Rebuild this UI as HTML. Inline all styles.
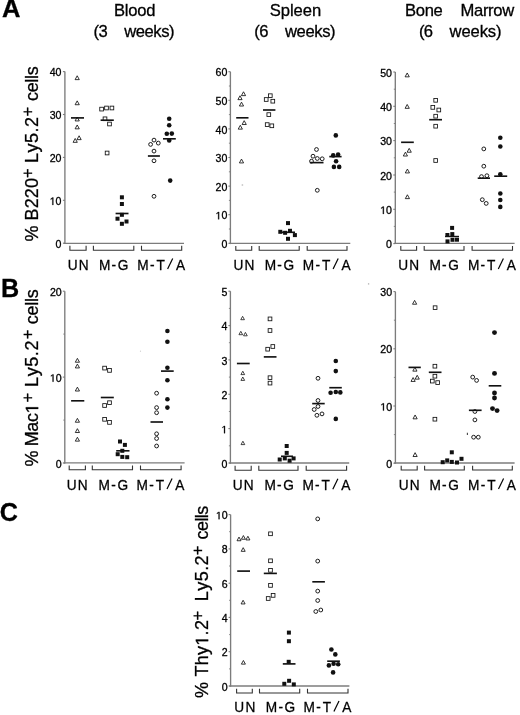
<!DOCTYPE html>
<html><head><meta charset="utf-8"><title>Figure</title>
<style>
html,body{margin:0;padding:0;background:#fff;}
body{width:520px;height:715px;overflow:hidden;}
svg{display:block;font-family:"Liberation Sans", sans-serif;filter:grayscale(100%);}
text{fill:#000;stroke:#000;stroke-width:0.3px;}
</style></head><body>
<svg width="520" height="715" viewBox="0 0 520 715">
<text x="2.0" y="17.4" font-size="25.5" text-anchor="start" font-weight="bold" >A</text>
<text x="1.0" y="296.9" font-size="25.2" text-anchor="start" font-weight="bold" >B</text>
<text x="-0.2" y="520.6" font-size="25.2" text-anchor="start" font-weight="bold" >C</text>
<text x="114.0" y="15.8" font-size="16.6" text-anchor="start" font-weight="normal" textLength="41.4" lengthAdjust="spacing">Blood</text>
<text x="93.5" y="37.2" font-size="16.6" text-anchor="start" font-weight="normal" textLength="14.2" lengthAdjust="spacing">(3</text>
<text x="124.2" y="37.2" font-size="16.6" text-anchor="start" font-weight="normal" textLength="50.4" lengthAdjust="spacing">weeks)</text>
<text x="269.8" y="15.8" font-size="16.6" text-anchor="start" font-weight="normal" textLength="51.4" lengthAdjust="spacing">Spleen</text>
<text x="254.2" y="37.2" font-size="16.6" text-anchor="start" font-weight="normal" textLength="14.2" lengthAdjust="spacing">(6</text>
<text x="285.0" y="37.2" font-size="16.6" text-anchor="start" font-weight="normal" textLength="50.6" lengthAdjust="spacing">weeks)</text>
<text x="405.1" y="16.0" font-size="16.6" text-anchor="start" font-weight="normal" textLength="37.6" lengthAdjust="spacing">Bone</text>
<text x="460.5" y="16.0" font-size="16.6" text-anchor="start" font-weight="normal" textLength="53.7" lengthAdjust="spacing">Marrow</text>
<text x="418.9" y="37.2" font-size="16.6" text-anchor="start" font-weight="normal" textLength="14.2" lengthAdjust="spacing">(6</text>
<text x="449.6" y="37.2" font-size="16.6" text-anchor="start" font-weight="normal" textLength="51.9" lengthAdjust="spacing">weeks)</text>
<text transform="translate(37.90,240.90) rotate(-90)" x="-0.64 20.52 32.61 42.70 52.79" y="-0.00" font-size="18.0">%B220</text>
<text transform="translate(37.90,177.30) rotate(-90)" x="-0.80" y="-4.75" font-size="16.4">+</text>
<text transform="translate(37.90,161.50) rotate(-90)" x="-1.48 9.05 18.56 29.08 34.59" y="-0.00" font-size="18.0">Ly5.2</text>
<text transform="translate(37.90,115.70) rotate(-90)" x="-0.80" y="-4.75" font-size="16.4">+</text>
<text transform="translate(37.90,100.20) rotate(-90)" x="-0.76 7.89 17.55 21.20 24.85" y="-0.00" font-size="18.0">cells</text>
<path d="M515 0L515 1237L197 1010L197 1180L530 1409L696 1409L696 0Z" transform="translate(38.20,465.80) rotate(-90) translate(52.38,-0.00) scale(0.00879,-0.00879)" fill="#000" stroke="#000" stroke-width="0.3" vector-effect="non-scaling-stroke"/>
<text transform="translate(38.20,465.80) rotate(-90)" x="-0.64 19.57 34.17 43.78" y="-0.00" font-size="18.0">%Mac</text>
<text transform="translate(38.20,401.60) rotate(-90)" x="-0.80" y="-4.75" font-size="16.4">+</text>
<text transform="translate(38.20,385.50) rotate(-90)" x="-1.48 9.15 18.76 29.38 34.99" y="-0.00" font-size="18.0">Ly5.2</text>
<text transform="translate(38.20,338.50) rotate(-90)" x="-0.80" y="-4.75" font-size="16.4">+</text>
<text transform="translate(38.20,323.40) rotate(-90)" x="-0.76 7.96 17.70 21.42 25.15" y="-0.00" font-size="18.0">cells</text>
<path d="M515 0L515 1237L197 1010L197 1180L530 1409L696 1409L696 0Z" transform="translate(208.20,697.40) rotate(-90) translate(51.74,-0.00) scale(0.00879,-0.00879)" fill="#000" stroke="#000" stroke-width="0.3" vector-effect="non-scaling-stroke"/>
<text transform="translate(208.20,697.40) rotate(-90)" x="-0.64 20.91 32.18 42.46 62.02 67.29" y="-0.00" font-size="18.0">%Thy.2</text>
<text transform="translate(208.20,619.70) rotate(-90)" x="-0.80" y="-4.75" font-size="16.4">+</text>
<text transform="translate(208.20,599.70) rotate(-90)" x="-1.48 8.97 18.41 28.86 34.29" y="-0.00" font-size="18.0">Ly5.2</text>
<text transform="translate(208.20,554.40) rotate(-90)" x="-0.80" y="-4.75" font-size="16.4">+</text>
<text transform="translate(208.20,538.70) rotate(-90)" x="-0.76 7.66 17.10 20.52 23.95" y="-0.00" font-size="18.0">cells</text>
<line x1="64.9" y1="71.6" x2="64.9" y2="244.0" stroke="#7c7c7c" stroke-width="1.35"/>
<line x1="63.7" y1="243.3" x2="184.0" y2="243.3" stroke="#7c7c7c" stroke-width="1.35"/>
<line x1="62.9" y1="243.2" x2="64.9" y2="243.2" stroke="#7c7c7c" stroke-width="1.1"/>
<text x="55.60" y="247.80" font-size="10.6">0</text>
<line x1="62.9" y1="200.3" x2="64.9" y2="200.3" stroke="#7c7c7c" stroke-width="1.1"/>
<path d="M515 0L515 1237L197 1010L197 1180L530 1409L696 1409L696 0Z" transform="translate(49.71,204.90) scale(0.00518,-0.00518)" fill="#000" stroke="#000" stroke-width="0.3" vector-effect="non-scaling-stroke"/>
<text x="55.60" y="204.90" font-size="10.6">0</text>
<line x1="62.9" y1="157.4" x2="64.9" y2="157.4" stroke="#7c7c7c" stroke-width="1.1"/>
<text x="49.71" y="162.00" font-size="10.6">2</text>
<text x="55.60" y="162.00" font-size="10.6">0</text>
<line x1="62.9" y1="114.5" x2="64.9" y2="114.5" stroke="#7c7c7c" stroke-width="1.1"/>
<text x="49.71" y="119.10" font-size="10.6">3</text>
<text x="55.60" y="119.10" font-size="10.6">0</text>
<line x1="62.9" y1="71.6" x2="64.9" y2="71.6" stroke="#7c7c7c" stroke-width="1.1"/>
<text x="49.71" y="76.20" font-size="10.6">4</text>
<text x="55.60" y="76.20" font-size="10.6">0</text>
<path d="M77.20 75.77 L79.30 79.63 L75.10 79.63 Z" fill="none" stroke="#111" stroke-width="0.85"/>
<path d="M77.20 100.87 L79.30 104.73 L75.10 104.73 Z" fill="none" stroke="#111" stroke-width="0.85"/>
<path d="M77.20 117.07 L79.30 120.93 L75.10 120.93 Z" fill="none" stroke="#111" stroke-width="0.85"/>
<path d="M77.20 124.97 L79.30 128.83 L75.10 128.83 Z" fill="none" stroke="#111" stroke-width="0.85"/>
<path d="M79.10 135.77 L81.20 139.63 L77.00 139.63 Z" fill="none" stroke="#111" stroke-width="0.85"/>
<path d="M75.20 138.47 L77.30 142.33 L73.10 142.33 Z" fill="none" stroke="#111" stroke-width="0.85"/>
<line x1="71.0" y1="117.9" x2="84.0" y2="117.9" stroke="#111" stroke-width="1.65"/>
<rect x="99.75" y="107.25" width="3.7" height="3.7" fill="none" stroke="#111" stroke-width="0.85"/>
<rect x="104.65" y="106.15" width="3.7" height="3.7" fill="none" stroke="#111" stroke-width="0.85"/>
<rect x="110.05" y="106.15" width="3.7" height="3.7" fill="none" stroke="#111" stroke-width="0.85"/>
<rect x="103.15" y="116.95" width="3.7" height="3.7" fill="none" stroke="#111" stroke-width="0.85"/>
<rect x="107.65" y="122.15" width="3.7" height="3.7" fill="none" stroke="#111" stroke-width="0.85"/>
<rect x="105.25" y="151.15" width="3.7" height="3.7" fill="none" stroke="#111" stroke-width="0.85"/>
<line x1="100.6" y1="120.2" x2="113.8" y2="120.2" stroke="#111" stroke-width="1.65"/>
<rect x="119.90" y="195.30" width="4.0" height="4.0" fill="#111"/>
<rect x="119.90" y="202.00" width="4.0" height="4.0" fill="#111"/>
<rect x="119.90" y="212.80" width="4.0" height="4.0" fill="#111"/>
<rect x="115.50" y="216.70" width="4.0" height="4.0" fill="#111"/>
<rect x="124.50" y="219.50" width="4.0" height="4.0" fill="#111"/>
<rect x="119.90" y="221.80" width="4.0" height="4.0" fill="#111"/>
<line x1="115.6" y1="213.5" x2="128.5" y2="213.5" stroke="#111" stroke-width="1.65"/>
<circle cx="154.00" cy="140.10" r="1.9" fill="none" stroke="#111" stroke-width="0.95"/>
<circle cx="158.30" cy="143.10" r="1.9" fill="none" stroke="#111" stroke-width="0.95"/>
<circle cx="150.60" cy="144.40" r="1.9" fill="none" stroke="#111" stroke-width="0.95"/>
<circle cx="154.00" cy="151.10" r="1.9" fill="none" stroke="#111" stroke-width="0.95"/>
<circle cx="154.00" cy="160.80" r="1.9" fill="none" stroke="#111" stroke-width="0.95"/>
<circle cx="154.00" cy="196.30" r="1.9" fill="none" stroke="#111" stroke-width="0.95"/>
<line x1="147.9" y1="156.0" x2="159.9" y2="156.0" stroke="#111" stroke-width="1.65"/>
<circle cx="169.20" cy="118.80" r="2.3" fill="#111"/>
<circle cx="169.20" cy="125.30" r="2.3" fill="#111"/>
<circle cx="166.80" cy="133.70" r="2.3" fill="#111"/>
<circle cx="171.80" cy="133.60" r="2.3" fill="#111"/>
<circle cx="169.20" cy="140.40" r="2.3" fill="#111"/>
<circle cx="170.20" cy="180.60" r="2.3" fill="#111"/>
<line x1="163.0" y1="138.8" x2="175.8" y2="138.8" stroke="#111" stroke-width="1.65"/>
<path d="M69.9 245.8 V250.3 H86.1 V245.8" fill="none" stroke="#333" stroke-width="1.1"/>
<path d="M93.4 245.8 V250.3 H133.8 V245.8" fill="none" stroke="#333" stroke-width="1.1"/>
<path d="M141.5 245.8 V250.3 H181.7 V245.8" fill="none" stroke="#333" stroke-width="1.1"/>
<text transform="translate(68.70,269.70) scale(0.9,1)" x="-1.17 11.09" y="0" font-size="15.2" style="stroke-width:0.3px">UN</text>
<text transform="translate(100.00,269.70) scale(0.9,1)" x="-1.25 12.78 19.68" y="0" font-size="15.2" style="stroke-width:0.3px">M-G</text>
<line x1="167.60" y1="269.00" x2="172.70" y2="258.50" stroke="#000" stroke-width="1.2"/>
<text transform="translate(138.30,269.70) scale(0.9,1)" x="-1.25 12.89 20.11 41.86" y="0" font-size="15.2" style="stroke-width:0.3px">M-TA</text>
<line x1="230.4" y1="71.7" x2="230.4" y2="244.1" stroke="#7c7c7c" stroke-width="1.35"/>
<line x1="229.2" y1="243.4" x2="350.3" y2="243.4" stroke="#7c7c7c" stroke-width="1.35"/>
<line x1="228.4" y1="243.3" x2="230.4" y2="243.3" stroke="#7c7c7c" stroke-width="1.1"/>
<text x="221.40" y="247.90" font-size="10.6">0</text>
<line x1="228.4" y1="214.7" x2="230.4" y2="214.7" stroke="#7c7c7c" stroke-width="1.1"/>
<path d="M515 0L515 1237L197 1010L197 1180L530 1409L696 1409L696 0Z" transform="translate(215.51,219.30) scale(0.00518,-0.00518)" fill="#000" stroke="#000" stroke-width="0.3" vector-effect="non-scaling-stroke"/>
<text x="221.40" y="219.30" font-size="10.6">0</text>
<line x1="228.4" y1="186.1" x2="230.4" y2="186.1" stroke="#7c7c7c" stroke-width="1.1"/>
<text x="215.51" y="190.70" font-size="10.6">2</text>
<text x="221.40" y="190.70" font-size="10.6">0</text>
<line x1="228.4" y1="157.5" x2="230.4" y2="157.5" stroke="#7c7c7c" stroke-width="1.1"/>
<text x="215.51" y="162.10" font-size="10.6">3</text>
<text x="221.40" y="162.10" font-size="10.6">0</text>
<line x1="228.4" y1="128.9" x2="230.4" y2="128.9" stroke="#7c7c7c" stroke-width="1.1"/>
<text x="215.51" y="133.50" font-size="10.6">4</text>
<text x="221.40" y="133.50" font-size="10.6">0</text>
<line x1="228.4" y1="100.3" x2="230.4" y2="100.3" stroke="#7c7c7c" stroke-width="1.1"/>
<text x="215.51" y="104.90" font-size="10.6">5</text>
<text x="221.40" y="104.90" font-size="10.6">0</text>
<line x1="228.4" y1="71.7" x2="230.4" y2="71.7" stroke="#7c7c7c" stroke-width="1.1"/>
<text x="215.51" y="76.30" font-size="10.6">6</text>
<text x="221.40" y="76.30" font-size="10.6">0</text>
<line x1="228.9" y1="229.0" x2="230.4" y2="229.0" stroke="#7c7c7c" stroke-width="0.9"/>
<line x1="228.9" y1="200.4" x2="230.4" y2="200.4" stroke="#7c7c7c" stroke-width="0.9"/>
<line x1="228.9" y1="171.8" x2="230.4" y2="171.8" stroke="#7c7c7c" stroke-width="0.9"/>
<line x1="228.9" y1="143.2" x2="230.4" y2="143.2" stroke="#7c7c7c" stroke-width="0.9"/>
<line x1="228.9" y1="114.6" x2="230.4" y2="114.6" stroke="#7c7c7c" stroke-width="0.9"/>
<line x1="228.9" y1="86.0" x2="230.4" y2="86.0" stroke="#7c7c7c" stroke-width="0.9"/>
<path d="M243.50 91.77 L245.60 95.63 L241.40 95.63 Z" fill="none" stroke="#111" stroke-width="0.85"/>
<path d="M240.00 95.77 L242.10 99.63 L237.90 99.63 Z" fill="none" stroke="#111" stroke-width="0.85"/>
<path d="M241.50 102.17 L243.60 106.03 L239.40 106.03 Z" fill="none" stroke="#111" stroke-width="0.85"/>
<path d="M244.20 120.67 L246.30 124.53 L242.10 124.53 Z" fill="none" stroke="#111" stroke-width="0.85"/>
<path d="M240.30 125.27 L242.40 129.13 L238.20 129.13 Z" fill="none" stroke="#111" stroke-width="0.85"/>
<path d="M241.50 159.07 L243.60 162.93 L239.40 162.93 Z" fill="none" stroke="#111" stroke-width="0.85"/>
<circle cx="242.4" cy="185" r="0.9" fill="#ccc"/>
<line x1="236.2" y1="117.8" x2="248.5" y2="117.8" stroke="#111" stroke-width="1.65"/>
<rect x="268.45" y="93.85" width="3.7" height="3.7" fill="none" stroke="#111" stroke-width="0.85"/>
<rect x="264.35" y="97.65" width="3.7" height="3.7" fill="none" stroke="#111" stroke-width="0.85"/>
<rect x="270.95" y="99.35" width="3.7" height="3.7" fill="none" stroke="#111" stroke-width="0.85"/>
<rect x="266.95" y="112.75" width="3.7" height="3.7" fill="none" stroke="#111" stroke-width="0.85"/>
<rect x="265.35" y="122.75" width="3.7" height="3.7" fill="none" stroke="#111" stroke-width="0.85"/>
<rect x="269.95" y="123.95" width="3.7" height="3.7" fill="none" stroke="#111" stroke-width="0.85"/>
<line x1="263.0" y1="110.0" x2="275.4" y2="110.0" stroke="#111" stroke-width="1.65"/>
<rect x="286.00" y="221.10" width="4.0" height="4.0" fill="#111"/>
<rect x="278.30" y="229.80" width="4.0" height="4.0" fill="#111"/>
<rect x="283.10" y="230.80" width="4.0" height="4.0" fill="#111"/>
<rect x="288.00" y="228.80" width="4.0" height="4.0" fill="#111"/>
<rect x="292.90" y="233.10" width="4.0" height="4.0" fill="#111"/>
<rect x="286.00" y="236.80" width="4.0" height="4.0" fill="#111"/>
<line x1="280.0" y1="232.3" x2="295.0" y2="232.3" stroke="#111" stroke-width="1.65"/>
<circle cx="316.50" cy="149.50" r="1.9" fill="none" stroke="#111" stroke-width="0.95"/>
<circle cx="313.00" cy="156.20" r="1.9" fill="none" stroke="#111" stroke-width="0.95"/>
<circle cx="317.30" cy="158.50" r="1.9" fill="none" stroke="#111" stroke-width="0.95"/>
<circle cx="322.20" cy="158.80" r="1.9" fill="none" stroke="#111" stroke-width="0.95"/>
<circle cx="311.50" cy="161.20" r="1.9" fill="none" stroke="#111" stroke-width="0.95"/>
<circle cx="317.30" cy="190.30" r="1.9" fill="none" stroke="#111" stroke-width="0.95"/>
<line x1="309.9" y1="162.6" x2="323.5" y2="162.6" stroke="#111" stroke-width="1.65"/>
<circle cx="335.80" cy="135.40" r="2.3" fill="#111"/>
<circle cx="333.20" cy="155.40" r="2.3" fill="#111"/>
<circle cx="338.10" cy="154.60" r="2.3" fill="#111"/>
<circle cx="336.10" cy="161.20" r="2.3" fill="#111"/>
<circle cx="333.90" cy="166.90" r="2.3" fill="#111"/>
<circle cx="339.20" cy="166.90" r="2.3" fill="#111"/>
<line x1="329.3" y1="156.6" x2="341.6" y2="156.6" stroke="#111" stroke-width="1.65"/>
<path d="M235.8 245.9 V250.2 H251.7 V245.9" fill="none" stroke="#333" stroke-width="1.1"/>
<path d="M259.2 245.9 V250.2 H299.2 V245.9" fill="none" stroke="#333" stroke-width="1.1"/>
<path d="M307.2 245.9 V250.2 H347.0 V245.9" fill="none" stroke="#333" stroke-width="1.1"/>
<text transform="translate(234.60,269.60) scale(0.9,1)" x="-1.17 11.09" y="0" font-size="15.2" style="stroke-width:0.3px">UN</text>
<text transform="translate(265.80,269.60) scale(0.9,1)" x="-1.25 12.78 19.68" y="0" font-size="15.2" style="stroke-width:0.3px">M-G</text>
<line x1="333.10" y1="268.90" x2="338.20" y2="258.40" stroke="#000" stroke-width="1.2"/>
<text transform="translate(303.80,269.60) scale(0.9,1)" x="-1.25 12.89 20.11 41.86" y="0" font-size="15.2" style="stroke-width:0.3px">M-TA</text>
<line x1="395.3" y1="72.0" x2="395.3" y2="244.1" stroke="#7c7c7c" stroke-width="1.35"/>
<line x1="394.1" y1="243.4" x2="514.6" y2="243.4" stroke="#7c7c7c" stroke-width="1.35"/>
<line x1="393.3" y1="243.6" x2="395.3" y2="243.6" stroke="#7c7c7c" stroke-width="1.1"/>
<text x="386.10" y="248.20" font-size="10.6">0</text>
<line x1="393.3" y1="209.3" x2="395.3" y2="209.3" stroke="#7c7c7c" stroke-width="1.1"/>
<path d="M515 0L515 1237L197 1010L197 1180L530 1409L696 1409L696 0Z" transform="translate(380.21,213.88) scale(0.00518,-0.00518)" fill="#000" stroke="#000" stroke-width="0.3" vector-effect="non-scaling-stroke"/>
<text x="386.10" y="213.88" font-size="10.6">0</text>
<line x1="393.3" y1="175.0" x2="395.3" y2="175.0" stroke="#7c7c7c" stroke-width="1.1"/>
<text x="380.21" y="179.56" font-size="10.6">2</text>
<text x="386.10" y="179.56" font-size="10.6">0</text>
<line x1="393.3" y1="140.6" x2="395.3" y2="140.6" stroke="#7c7c7c" stroke-width="1.1"/>
<text x="380.21" y="145.24" font-size="10.6">3</text>
<text x="386.10" y="145.24" font-size="10.6">0</text>
<line x1="393.3" y1="106.3" x2="395.3" y2="106.3" stroke="#7c7c7c" stroke-width="1.1"/>
<text x="380.21" y="110.92" font-size="10.6">4</text>
<text x="386.10" y="110.92" font-size="10.6">0</text>
<line x1="393.3" y1="72.0" x2="395.3" y2="72.0" stroke="#7c7c7c" stroke-width="1.1"/>
<text x="380.21" y="76.60" font-size="10.6">5</text>
<text x="386.10" y="76.60" font-size="10.6">0</text>
<line x1="393.8" y1="226.4" x2="395.3" y2="226.4" stroke="#7c7c7c" stroke-width="0.9"/>
<line x1="393.8" y1="192.1" x2="395.3" y2="192.1" stroke="#7c7c7c" stroke-width="0.9"/>
<line x1="393.8" y1="157.8" x2="395.3" y2="157.8" stroke="#7c7c7c" stroke-width="0.9"/>
<line x1="393.8" y1="123.5" x2="395.3" y2="123.5" stroke="#7c7c7c" stroke-width="0.9"/>
<line x1="393.8" y1="89.2" x2="395.3" y2="89.2" stroke="#7c7c7c" stroke-width="0.9"/>
<path d="M407.20 72.97 L409.30 76.83 L405.10 76.83 Z" fill="none" stroke="#111" stroke-width="0.85"/>
<path d="M407.20 104.47 L409.30 108.33 L405.10 108.33 Z" fill="none" stroke="#111" stroke-width="0.85"/>
<path d="M409.20 148.37 L411.30 152.23 L407.10 152.23 Z" fill="none" stroke="#111" stroke-width="0.85"/>
<path d="M405.40 152.17 L407.50 156.03 L403.30 156.03 Z" fill="none" stroke="#111" stroke-width="0.85"/>
<path d="M407.40 169.07 L409.50 172.93 L405.30 172.93 Z" fill="none" stroke="#111" stroke-width="0.85"/>
<path d="M407.40 194.77 L409.50 198.63 L405.30 198.63 Z" fill="none" stroke="#111" stroke-width="0.85"/>
<line x1="401.1" y1="142.3" x2="413.8" y2="142.3" stroke="#111" stroke-width="1.65"/>
<rect x="433.85" y="98.45" width="3.7" height="3.7" fill="none" stroke="#111" stroke-width="0.85"/>
<rect x="430.95" y="105.55" width="3.7" height="3.7" fill="none" stroke="#111" stroke-width="0.85"/>
<rect x="436.95" y="108.15" width="3.7" height="3.7" fill="none" stroke="#111" stroke-width="0.85"/>
<rect x="433.85" y="114.35" width="3.7" height="3.7" fill="none" stroke="#111" stroke-width="0.85"/>
<rect x="433.85" y="124.35" width="3.7" height="3.7" fill="none" stroke="#111" stroke-width="0.85"/>
<rect x="433.85" y="158.65" width="3.7" height="3.7" fill="none" stroke="#111" stroke-width="0.85"/>
<line x1="429.2" y1="119.7" x2="442.0" y2="119.7" stroke="#111" stroke-width="1.65"/>
<rect x="450.10" y="225.90" width="4.0" height="4.0" fill="#111"/>
<rect x="445.40" y="233.00" width="4.0" height="4.0" fill="#111"/>
<rect x="450.30" y="232.10" width="4.0" height="4.0" fill="#111"/>
<rect x="450.50" y="237.80" width="4.0" height="4.0" fill="#111"/>
<rect x="455.00" y="237.70" width="4.0" height="4.0" fill="#111"/>
<rect x="445.50" y="239.40" width="4.0" height="4.0" fill="#111"/>
<line x1="445.0" y1="236.5" x2="459.0" y2="236.5" stroke="#111" stroke-width="1.4"/>
<circle cx="483.80" cy="148.90" r="1.9" fill="none" stroke="#111" stroke-width="0.95"/>
<circle cx="483.80" cy="166.20" r="1.9" fill="none" stroke="#111" stroke-width="0.95"/>
<circle cx="481.50" cy="176.60" r="1.9" fill="none" stroke="#111" stroke-width="0.95"/>
<circle cx="486.90" cy="175.70" r="1.9" fill="none" stroke="#111" stroke-width="0.95"/>
<circle cx="482.30" cy="199.70" r="1.9" fill="none" stroke="#111" stroke-width="0.95"/>
<circle cx="486.20" cy="203.40" r="1.9" fill="none" stroke="#111" stroke-width="0.95"/>
<line x1="477.7" y1="178.2" x2="490.0" y2="178.2" stroke="#111" stroke-width="1.65"/>
<circle cx="500.30" cy="137.70" r="2.3" fill="#111"/>
<circle cx="500.30" cy="146.50" r="2.3" fill="#111"/>
<circle cx="500.30" cy="174.20" r="2.3" fill="#111"/>
<circle cx="500.30" cy="193.50" r="2.3" fill="#111"/>
<circle cx="500.30" cy="200.00" r="2.3" fill="#111"/>
<circle cx="500.30" cy="206.90" r="2.3" fill="#111"/>
<line x1="494.2" y1="176.2" x2="507.2" y2="176.2" stroke="#111" stroke-width="1.65"/>
<path d="M400.8 246.0 V250.2 H416.6 V246.0" fill="none" stroke="#333" stroke-width="1.1"/>
<path d="M424.2 246.0 V250.2 H464.0 V246.0" fill="none" stroke="#333" stroke-width="1.1"/>
<path d="M472.1 246.0 V250.2 H512.5 V246.0" fill="none" stroke="#333" stroke-width="1.1"/>
<text transform="translate(399.20,269.60) scale(0.9,1)" x="-1.17 11.09" y="0" font-size="15.2" style="stroke-width:0.3px">UN</text>
<text transform="translate(430.60,269.60) scale(0.9,1)" x="-1.25 12.78 19.68" y="0" font-size="15.2" style="stroke-width:0.3px">M-G</text>
<line x1="498.30" y1="268.90" x2="503.40" y2="258.40" stroke="#000" stroke-width="1.2"/>
<text transform="translate(469.00,269.60) scale(0.9,1)" x="-1.25 12.89 20.11 41.86" y="0" font-size="15.2" style="stroke-width:0.3px">M-TA</text>
<line x1="64.8" y1="291.2" x2="64.8" y2="463.6" stroke="#7c7c7c" stroke-width="1.35"/>
<line x1="63.6" y1="462.9" x2="184.6" y2="462.9" stroke="#7c7c7c" stroke-width="1.35"/>
<line x1="62.8" y1="463.0" x2="64.8" y2="463.0" stroke="#7c7c7c" stroke-width="1.1"/>
<text x="55.80" y="467.60" font-size="10.6">0</text>
<line x1="62.8" y1="377.1" x2="64.8" y2="377.1" stroke="#7c7c7c" stroke-width="1.1"/>
<path d="M515 0L515 1237L197 1010L197 1180L530 1409L696 1409L696 0Z" transform="translate(49.91,381.70) scale(0.00518,-0.00518)" fill="#000" stroke="#000" stroke-width="0.3" vector-effect="non-scaling-stroke"/>
<text x="55.80" y="381.70" font-size="10.6">0</text>
<line x1="62.8" y1="291.2" x2="64.8" y2="291.2" stroke="#7c7c7c" stroke-width="1.1"/>
<text x="49.91" y="295.80" font-size="10.6">2</text>
<text x="55.80" y="295.80" font-size="10.6">0</text>
<line x1="63.3" y1="420.1" x2="64.8" y2="420.1" stroke="#7c7c7c" stroke-width="0.9"/>
<line x1="63.3" y1="334.1" x2="64.8" y2="334.1" stroke="#7c7c7c" stroke-width="0.9"/>
<path d="M77.40 358.37 L79.50 362.23 L75.30 362.23 Z" fill="none" stroke="#111" stroke-width="0.85"/>
<path d="M77.40 364.07 L79.50 367.93 L75.30 367.93 Z" fill="none" stroke="#111" stroke-width="0.85"/>
<path d="M77.40 387.17 L79.50 391.03 L75.30 391.03 Z" fill="none" stroke="#111" stroke-width="0.85"/>
<path d="M77.40 418.37 L79.50 422.23 L75.30 422.23 Z" fill="none" stroke="#111" stroke-width="0.85"/>
<path d="M77.40 428.67 L79.50 432.53 L75.30 432.53 Z" fill="none" stroke="#111" stroke-width="0.85"/>
<path d="M77.40 437.27 L79.50 441.13 L75.30 441.13 Z" fill="none" stroke="#111" stroke-width="0.85"/>
<line x1="71.1" y1="400.8" x2="84.3" y2="400.8" stroke="#111" stroke-width="1.65"/>
<rect x="102.75" y="366.25" width="3.7" height="3.7" fill="none" stroke="#111" stroke-width="0.85"/>
<rect x="107.65" y="368.55" width="3.7" height="3.7" fill="none" stroke="#111" stroke-width="0.85"/>
<rect x="107.65" y="400.85" width="3.7" height="3.7" fill="none" stroke="#111" stroke-width="0.85"/>
<rect x="102.75" y="403.65" width="3.7" height="3.7" fill="none" stroke="#111" stroke-width="0.85"/>
<rect x="102.75" y="417.45" width="3.7" height="3.7" fill="none" stroke="#111" stroke-width="0.85"/>
<rect x="107.65" y="420.55" width="3.7" height="3.7" fill="none" stroke="#111" stroke-width="0.85"/>
<line x1="100.8" y1="397.5" x2="113.8" y2="397.5" stroke="#111" stroke-width="1.65"/>
<rect x="118.00" y="439.50" width="4.0" height="4.0" fill="#111"/>
<rect x="122.90" y="442.90" width="4.0" height="4.0" fill="#111"/>
<rect x="120.30" y="448.80" width="4.0" height="4.0" fill="#111"/>
<rect x="115.70" y="452.20" width="4.0" height="4.0" fill="#111"/>
<rect x="120.30" y="454.90" width="4.0" height="4.0" fill="#111"/>
<rect x="125.20" y="455.20" width="4.0" height="4.0" fill="#111"/>
<line x1="116.2" y1="450.8" x2="129.5" y2="450.8" stroke="#111" stroke-width="1.65"/>
<circle cx="156.60" cy="393.20" r="1.9" fill="none" stroke="#111" stroke-width="0.95"/>
<circle cx="156.60" cy="407.60" r="1.9" fill="none" stroke="#111" stroke-width="0.95"/>
<circle cx="156.60" cy="412.70" r="1.9" fill="none" stroke="#111" stroke-width="0.95"/>
<circle cx="156.60" cy="433.80" r="1.9" fill="none" stroke="#111" stroke-width="0.95"/>
<circle cx="156.60" cy="438.50" r="1.9" fill="none" stroke="#111" stroke-width="0.95"/>
<circle cx="156.60" cy="446.00" r="1.9" fill="none" stroke="#111" stroke-width="0.95"/>
<line x1="150.5" y1="422.0" x2="163.0" y2="422.0" stroke="#111" stroke-width="1.65"/>
<circle cx="167.40" cy="331.00" r="2.3" fill="#111"/>
<circle cx="167.40" cy="341.80" r="2.3" fill="#111"/>
<circle cx="167.40" cy="367.80" r="2.3" fill="#111"/>
<circle cx="167.40" cy="380.30" r="2.3" fill="#111"/>
<circle cx="167.40" cy="399.20" r="2.3" fill="#111"/>
<circle cx="167.40" cy="407.60" r="2.3" fill="#111"/>
<line x1="161.0" y1="371.1" x2="173.7" y2="371.1" stroke="#111" stroke-width="1.65"/>
<path d="M69.2 465.6 V469.8 H85.4 V465.6" fill="none" stroke="#333" stroke-width="1.1"/>
<path d="M92.3 465.6 V469.8 H132.5 V465.6" fill="none" stroke="#333" stroke-width="1.1"/>
<path d="M140.5 465.6 V469.8 H181.1 V465.6" fill="none" stroke="#333" stroke-width="1.1"/>
<text transform="translate(67.70,489.60) scale(0.9,1)" x="-1.17 11.09" y="0" font-size="15.2" style="stroke-width:0.3px">UN</text>
<text transform="translate(99.70,489.60) scale(0.9,1)" x="-1.25 12.78 19.68" y="0" font-size="15.2" style="stroke-width:0.3px">M-G</text>
<line x1="167.00" y1="488.90" x2="172.10" y2="478.40" stroke="#000" stroke-width="1.2"/>
<text transform="translate(137.70,489.60) scale(0.9,1)" x="-1.25 12.89 20.11 41.86" y="0" font-size="15.2" style="stroke-width:0.3px">M-TA</text>
<line x1="230.4" y1="291.2" x2="230.4" y2="463.7" stroke="#7c7c7c" stroke-width="1.35"/>
<line x1="229.2" y1="463.0" x2="349.2" y2="463.0" stroke="#7c7c7c" stroke-width="1.35"/>
<line x1="228.4" y1="463.0" x2="230.4" y2="463.0" stroke="#7c7c7c" stroke-width="1.1"/>
<text x="221.40" y="467.60" font-size="10.6">0</text>
<line x1="228.4" y1="428.6" x2="230.4" y2="428.6" stroke="#7c7c7c" stroke-width="1.1"/>
<path d="M515 0L515 1237L197 1010L197 1180L530 1409L696 1409L696 0Z" transform="translate(221.40,433.24) scale(0.00518,-0.00518)" fill="#000" stroke="#000" stroke-width="0.3" vector-effect="non-scaling-stroke"/>
<line x1="228.4" y1="394.3" x2="230.4" y2="394.3" stroke="#7c7c7c" stroke-width="1.1"/>
<text x="221.40" y="398.88" font-size="10.6">2</text>
<line x1="228.4" y1="359.9" x2="230.4" y2="359.9" stroke="#7c7c7c" stroke-width="1.1"/>
<text x="221.40" y="364.52" font-size="10.6">3</text>
<line x1="228.4" y1="325.6" x2="230.4" y2="325.6" stroke="#7c7c7c" stroke-width="1.1"/>
<text x="221.40" y="330.16" font-size="10.6">4</text>
<line x1="228.4" y1="291.2" x2="230.4" y2="291.2" stroke="#7c7c7c" stroke-width="1.1"/>
<text x="221.40" y="295.80" font-size="10.6">5</text>
<line x1="228.9" y1="445.8" x2="230.4" y2="445.8" stroke="#7c7c7c" stroke-width="0.9"/>
<line x1="228.9" y1="411.5" x2="230.4" y2="411.5" stroke="#7c7c7c" stroke-width="0.9"/>
<line x1="228.9" y1="377.1" x2="230.4" y2="377.1" stroke="#7c7c7c" stroke-width="0.9"/>
<line x1="228.9" y1="342.7" x2="230.4" y2="342.7" stroke="#7c7c7c" stroke-width="0.9"/>
<line x1="228.9" y1="308.4" x2="230.4" y2="308.4" stroke="#7c7c7c" stroke-width="0.9"/>
<path d="M242.60 316.30 L244.45 319.70 L240.75 319.70 Z" fill="none" stroke="#222" stroke-width="0.85"/>
<path d="M240.80 331.30 L242.65 334.70 L238.95 334.70 Z" fill="none" stroke="#222" stroke-width="0.85"/>
<path d="M245.40 332.40 L247.25 335.80 L243.55 335.80 Z" fill="none" stroke="#222" stroke-width="0.85"/>
<path d="M242.80 371.20 L244.65 374.60 L240.95 374.60 Z" fill="none" stroke="#222" stroke-width="0.85"/>
<path d="M242.80 377.00 L244.65 380.40 L240.95 380.40 Z" fill="none" stroke="#222" stroke-width="0.85"/>
<path d="M242.90 441.20 L244.75 444.60 L241.05 444.60 Z" fill="none" stroke="#222" stroke-width="0.85"/>
<line x1="236.9" y1="363.5" x2="249.7" y2="363.5" stroke="#111" stroke-width="1.65"/>
<rect x="268.15" y="317.05" width="3.7" height="3.7" fill="none" stroke="#111" stroke-width="0.85"/>
<rect x="268.15" y="328.65" width="3.7" height="3.7" fill="none" stroke="#111" stroke-width="0.85"/>
<rect x="270.95" y="344.65" width="3.7" height="3.7" fill="none" stroke="#111" stroke-width="0.85"/>
<rect x="265.85" y="347.35" width="3.7" height="3.7" fill="none" stroke="#111" stroke-width="0.85"/>
<rect x="268.15" y="375.85" width="3.7" height="3.7" fill="none" stroke="#111" stroke-width="0.85"/>
<rect x="268.15" y="381.25" width="3.7" height="3.7" fill="none" stroke="#111" stroke-width="0.85"/>
<line x1="263.8" y1="356.9" x2="276.5" y2="356.9" stroke="#111" stroke-width="1.65"/>
<rect x="284.70" y="444.00" width="4.0" height="4.0" fill="#111"/>
<rect x="284.70" y="450.90" width="4.0" height="4.0" fill="#111"/>
<rect x="277.70" y="457.50" width="4.0" height="4.0" fill="#111"/>
<rect x="282.80" y="456.40" width="4.0" height="4.0" fill="#111"/>
<rect x="287.60" y="458.70" width="4.0" height="4.0" fill="#111"/>
<rect x="291.60" y="456.40" width="4.0" height="4.0" fill="#111"/>
<line x1="281.0" y1="456.3" x2="293.0" y2="456.3" stroke="#111" stroke-width="1.65"/>
<circle cx="318.00" cy="378.30" r="1.9" fill="none" stroke="#111" stroke-width="0.95"/>
<circle cx="318.00" cy="400.50" r="1.9" fill="none" stroke="#111" stroke-width="0.95"/>
<circle cx="318.00" cy="406.50" r="1.9" fill="none" stroke="#111" stroke-width="0.95"/>
<circle cx="314.20" cy="409.50" r="1.9" fill="none" stroke="#111" stroke-width="0.95"/>
<circle cx="316.90" cy="415.30" r="1.9" fill="none" stroke="#111" stroke-width="0.95"/>
<circle cx="322.00" cy="413.90" r="1.9" fill="none" stroke="#111" stroke-width="0.95"/>
<line x1="312.2" y1="403.6" x2="324.7" y2="403.6" stroke="#111" stroke-width="1.65"/>
<circle cx="335.80" cy="361.00" r="2.3" fill="#111"/>
<circle cx="335.80" cy="371.10" r="2.3" fill="#111"/>
<circle cx="330.60" cy="392.80" r="2.3" fill="#111"/>
<circle cx="335.80" cy="392.00" r="2.3" fill="#111"/>
<circle cx="340.30" cy="392.40" r="2.3" fill="#111"/>
<circle cx="335.80" cy="418.90" r="2.3" fill="#111"/>
<line x1="329.3" y1="387.7" x2="341.8" y2="387.7" stroke="#111" stroke-width="1.65"/>
<path d="M235.1 465.8 V470.2 H251.2 V465.8" fill="none" stroke="#333" stroke-width="1.1"/>
<path d="M258.8 465.8 V470.2 H298.0 V465.8" fill="none" stroke="#333" stroke-width="1.1"/>
<path d="M306.2 465.8 V470.2 H346.6 V465.8" fill="none" stroke="#333" stroke-width="1.1"/>
<text transform="translate(233.80,490.00) scale(0.9,1)" x="-1.17 11.09" y="0" font-size="15.2" style="stroke-width:0.3px">UN</text>
<text transform="translate(265.60,490.00) scale(0.9,1)" x="-1.25 12.78 19.68" y="0" font-size="15.2" style="stroke-width:0.3px">M-G</text>
<line x1="332.80" y1="489.30" x2="337.90" y2="478.80" stroke="#000" stroke-width="1.2"/>
<text transform="translate(303.50,490.00) scale(0.9,1)" x="-1.25 12.89 20.11 41.86" y="0" font-size="15.2" style="stroke-width:0.3px">M-TA</text>
<line x1="395.4" y1="291.6" x2="395.4" y2="463.7" stroke="#7c7c7c" stroke-width="1.35"/>
<line x1="394.2" y1="463.0" x2="514.6" y2="463.0" stroke="#7c7c7c" stroke-width="1.35"/>
<line x1="393.4" y1="463.2" x2="395.4" y2="463.2" stroke="#7c7c7c" stroke-width="1.1"/>
<text x="386.20" y="467.80" font-size="10.6">0</text>
<line x1="393.4" y1="406.0" x2="395.4" y2="406.0" stroke="#7c7c7c" stroke-width="1.1"/>
<path d="M515 0L515 1237L197 1010L197 1180L530 1409L696 1409L696 0Z" transform="translate(380.31,410.60) scale(0.00518,-0.00518)" fill="#000" stroke="#000" stroke-width="0.3" vector-effect="non-scaling-stroke"/>
<text x="386.20" y="410.60" font-size="10.6">0</text>
<line x1="393.4" y1="348.8" x2="395.4" y2="348.8" stroke="#7c7c7c" stroke-width="1.1"/>
<text x="380.31" y="353.40" font-size="10.6">2</text>
<text x="386.20" y="353.40" font-size="10.6">0</text>
<line x1="393.4" y1="291.6" x2="395.4" y2="291.6" stroke="#7c7c7c" stroke-width="1.1"/>
<text x="380.31" y="296.20" font-size="10.6">3</text>
<text x="386.20" y="296.20" font-size="10.6">0</text>
<line x1="393.9" y1="434.6" x2="395.4" y2="434.6" stroke="#7c7c7c" stroke-width="0.9"/>
<line x1="393.9" y1="377.4" x2="395.4" y2="377.4" stroke="#7c7c7c" stroke-width="0.9"/>
<line x1="393.9" y1="320.2" x2="395.4" y2="320.2" stroke="#7c7c7c" stroke-width="0.9"/>
<path d="M414.60 300.37 L416.70 304.23 L412.50 304.23 Z" fill="none" stroke="#111" stroke-width="0.85"/>
<path d="M414.90 367.27 L417.00 371.13 L412.80 371.13 Z" fill="none" stroke="#111" stroke-width="0.85"/>
<path d="M413.10 377.57 L415.20 381.43 L411.00 381.43 Z" fill="none" stroke="#111" stroke-width="0.85"/>
<path d="M417.20 375.27 L419.30 379.13 L415.10 379.13 Z" fill="none" stroke="#111" stroke-width="0.85"/>
<path d="M415.10 414.97 L417.20 418.83 L413.00 418.83 Z" fill="none" stroke="#111" stroke-width="0.85"/>
<path d="M415.10 452.67 L417.20 456.53 L413.00 456.53 Z" fill="none" stroke="#111" stroke-width="0.85"/>
<line x1="408.5" y1="367.4" x2="420.8" y2="367.4" stroke="#111" stroke-width="1.65"/>
<rect x="433.25" y="305.85" width="3.7" height="3.7" fill="none" stroke="#111" stroke-width="0.85"/>
<rect x="433.05" y="364.35" width="3.7" height="3.7" fill="none" stroke="#111" stroke-width="0.85"/>
<rect x="433.05" y="374.35" width="3.7" height="3.7" fill="none" stroke="#111" stroke-width="0.85"/>
<rect x="430.45" y="379.25" width="3.7" height="3.7" fill="none" stroke="#111" stroke-width="0.85"/>
<rect x="435.85" y="380.75" width="3.7" height="3.7" fill="none" stroke="#111" stroke-width="0.85"/>
<rect x="433.05" y="417.35" width="3.7" height="3.7" fill="none" stroke="#111" stroke-width="0.85"/>
<line x1="428.8" y1="372.3" x2="441.5" y2="372.3" stroke="#111" stroke-width="1.65"/>
<rect x="449.80" y="450.30" width="4.0" height="4.0" fill="#111"/>
<rect x="440.70" y="460.20" width="4.0" height="4.0" fill="#111"/>
<rect x="445.20" y="458.40" width="4.0" height="4.0" fill="#111"/>
<rect x="449.80" y="459.90" width="4.0" height="4.0" fill="#111"/>
<rect x="455.00" y="460.50" width="4.0" height="4.0" fill="#111"/>
<rect x="459.50" y="456.80" width="4.0" height="4.0" fill="#111"/>
<circle cx="472.70" cy="377.10" r="1.9" fill="none" stroke="#111" stroke-width="0.95"/>
<circle cx="476.60" cy="380.40" r="1.9" fill="none" stroke="#111" stroke-width="0.95"/>
<circle cx="474.90" cy="411.50" r="1.9" fill="none" stroke="#111" stroke-width="0.95"/>
<circle cx="474.90" cy="419.90" r="1.9" fill="none" stroke="#111" stroke-width="0.95"/>
<circle cx="473.60" cy="437.20" r="1.9" fill="none" stroke="#111" stroke-width="0.95"/>
<circle cx="478.30" cy="437.20" r="1.9" fill="none" stroke="#111" stroke-width="0.95"/>
<line x1="468.9" y1="410.3" x2="481.6" y2="410.3" stroke="#111" stroke-width="1.65"/>
<circle cx="494.50" cy="332.60" r="2.45" fill="#111"/>
<circle cx="494.50" cy="373.40" r="2.45" fill="#111"/>
<circle cx="494.50" cy="393.00" r="2.45" fill="#111"/>
<circle cx="494.50" cy="398.00" r="2.45" fill="#111"/>
<circle cx="492.50" cy="408.60" r="2.45" fill="#111"/>
<circle cx="497.10" cy="410.60" r="2.45" fill="#111"/>
<line x1="488.7" y1="385.8" x2="501.3" y2="385.8" stroke="#111" stroke-width="1.65"/>
<path d="M401.2 465.8 V470.0 H417.2 V465.8" fill="none" stroke="#333" stroke-width="1.1"/>
<path d="M424.6 465.8 V470.0 H464.3 V465.8" fill="none" stroke="#333" stroke-width="1.1"/>
<path d="M472.6 465.8 V470.0 H512.3 V465.8" fill="none" stroke="#333" stroke-width="1.1"/>
<text transform="translate(399.70,489.80) scale(0.9,1)" x="-1.17 11.09" y="0" font-size="15.2" style="stroke-width:0.3px">UN</text>
<text transform="translate(430.60,489.80) scale(0.9,1)" x="-1.25 12.78 19.68" y="0" font-size="15.2" style="stroke-width:0.3px">M-G</text>
<line x1="498.50" y1="489.10" x2="503.60" y2="478.60" stroke="#000" stroke-width="1.2"/>
<text transform="translate(469.20,489.80) scale(0.9,1)" x="-1.25 12.89 20.11 41.86" y="0" font-size="15.2" style="stroke-width:0.3px">M-TA</text>
<line x1="230.6" y1="514.6" x2="230.6" y2="686.7" stroke="#7c7c7c" stroke-width="1.35"/>
<line x1="229.4" y1="686.0" x2="349.4" y2="686.0" stroke="#7c7c7c" stroke-width="1.35"/>
<line x1="228.6" y1="686.0" x2="230.6" y2="686.0" stroke="#7c7c7c" stroke-width="1.1"/>
<text x="221.80" y="690.60" font-size="10.6">0</text>
<line x1="228.6" y1="651.7" x2="230.6" y2="651.7" stroke="#7c7c7c" stroke-width="1.1"/>
<text x="221.80" y="656.32" font-size="10.6">2</text>
<line x1="228.6" y1="617.4" x2="230.6" y2="617.4" stroke="#7c7c7c" stroke-width="1.1"/>
<text x="221.80" y="622.04" font-size="10.6">4</text>
<line x1="228.6" y1="583.2" x2="230.6" y2="583.2" stroke="#7c7c7c" stroke-width="1.1"/>
<text x="221.80" y="587.76" font-size="10.6">6</text>
<line x1="228.6" y1="548.9" x2="230.6" y2="548.9" stroke="#7c7c7c" stroke-width="1.1"/>
<text x="221.80" y="553.48" font-size="10.6">8</text>
<line x1="228.6" y1="514.6" x2="230.6" y2="514.6" stroke="#7c7c7c" stroke-width="1.1"/>
<path d="M515 0L515 1237L197 1010L197 1180L530 1409L696 1409L696 0Z" transform="translate(215.91,519.20) scale(0.00518,-0.00518)" fill="#000" stroke="#000" stroke-width="0.3" vector-effect="non-scaling-stroke"/>
<text x="221.80" y="519.20" font-size="10.6">0</text>
<line x1="229.1" y1="668.9" x2="230.6" y2="668.9" stroke="#7c7c7c" stroke-width="0.9"/>
<line x1="229.1" y1="634.6" x2="230.6" y2="634.6" stroke="#7c7c7c" stroke-width="0.9"/>
<line x1="229.1" y1="600.3" x2="230.6" y2="600.3" stroke="#7c7c7c" stroke-width="0.9"/>
<line x1="229.1" y1="566.0" x2="230.6" y2="566.0" stroke="#7c7c7c" stroke-width="0.9"/>
<line x1="229.1" y1="531.7" x2="230.6" y2="531.7" stroke="#7c7c7c" stroke-width="0.9"/>
<path d="M239.00 537.06 L241.00 540.74 L237.00 540.74 Z" fill="none" stroke="#111" stroke-width="0.85"/>
<path d="M243.40 535.56 L245.40 539.24 L241.40 539.24 Z" fill="none" stroke="#111" stroke-width="0.85"/>
<path d="M247.90 536.26 L249.90 539.94 L245.90 539.94 Z" fill="none" stroke="#111" stroke-width="0.85"/>
<path d="M243.20 547.66 L245.20 551.34 L241.20 551.34 Z" fill="none" stroke="#111" stroke-width="0.85"/>
<path d="M243.10 600.26 L245.10 603.94 L241.10 603.94 Z" fill="none" stroke="#111" stroke-width="0.85"/>
<path d="M243.40 660.46 L245.40 664.14 L241.40 664.14 Z" fill="none" stroke="#111" stroke-width="0.85"/>
<line x1="237.2" y1="571.1" x2="250.0" y2="571.1" stroke="#111" stroke-width="1.65"/>
<rect x="268.65" y="531.95" width="3.7" height="3.7" fill="none" stroke="#111" stroke-width="0.85"/>
<rect x="268.65" y="558.95" width="3.7" height="3.7" fill="none" stroke="#111" stroke-width="0.85"/>
<rect x="268.65" y="568.45" width="3.7" height="3.7" fill="none" stroke="#111" stroke-width="0.85"/>
<rect x="268.65" y="583.55" width="3.7" height="3.7" fill="none" stroke="#111" stroke-width="0.85"/>
<rect x="271.25" y="593.55" width="3.7" height="3.7" fill="none" stroke="#111" stroke-width="0.85"/>
<rect x="266.35" y="596.65" width="3.7" height="3.7" fill="none" stroke="#111" stroke-width="0.85"/>
<line x1="263.8" y1="573.4" x2="276.9" y2="573.4" stroke="#111" stroke-width="1.65"/>
<rect x="286.90" y="630.60" width="4.0" height="4.0" fill="#111"/>
<rect x="286.90" y="639.20" width="4.0" height="4.0" fill="#111"/>
<rect x="286.70" y="659.80" width="4.0" height="4.0" fill="#111"/>
<rect x="282.30" y="681.80" width="4.0" height="4.0" fill="#111"/>
<rect x="287.10" y="678.80" width="4.0" height="4.0" fill="#111"/>
<rect x="291.80" y="682.40" width="4.0" height="4.0" fill="#111"/>
<line x1="282.8" y1="663.9" x2="295.5" y2="663.9" stroke="#111" stroke-width="1.65"/>
<circle cx="317.70" cy="518.90" r="1.9" fill="none" stroke="#111" stroke-width="0.95"/>
<circle cx="317.70" cy="561.10" r="1.9" fill="none" stroke="#111" stroke-width="0.95"/>
<circle cx="317.70" cy="591.10" r="1.9" fill="none" stroke="#111" stroke-width="0.95"/>
<circle cx="317.70" cy="600.50" r="1.9" fill="none" stroke="#111" stroke-width="0.95"/>
<circle cx="315.80" cy="611.50" r="1.9" fill="none" stroke="#111" stroke-width="0.95"/>
<circle cx="320.80" cy="610.00" r="1.9" fill="none" stroke="#111" stroke-width="0.95"/>
<line x1="312.3" y1="581.8" x2="324.9" y2="581.8" stroke="#111" stroke-width="1.65"/>
<circle cx="331.40" cy="649.50" r="2.3" fill="#111"/>
<circle cx="335.30" cy="654.40" r="2.3" fill="#111"/>
<circle cx="328.90" cy="665.40" r="2.3" fill="#111"/>
<circle cx="333.60" cy="663.70" r="2.3" fill="#111"/>
<circle cx="338.20" cy="664.30" r="2.3" fill="#111"/>
<circle cx="333.10" cy="672.40" r="2.3" fill="#111"/>
<line x1="327.2" y1="661.2" x2="339.9" y2="661.2" stroke="#111" stroke-width="1.65"/>
<path d="M236.6 688.8 V693.0 H252.3 V688.8" fill="none" stroke="#333" stroke-width="1.1"/>
<path d="M259.5 688.8 V693.0 H299.7 V688.8" fill="none" stroke="#333" stroke-width="1.1"/>
<path d="M307.5 688.8 V693.0 H348.0 V688.8" fill="none" stroke="#333" stroke-width="1.1"/>
<text transform="translate(235.40,712.30) scale(0.9,1)" x="-1.17 11.09" y="0" font-size="15.2" style="stroke-width:0.3px">UN</text>
<text transform="translate(266.90,712.30) scale(0.9,1)" x="-1.25 12.78 19.68" y="0" font-size="15.2" style="stroke-width:0.3px">M-G</text>
<line x1="333.90" y1="711.60" x2="339.00" y2="701.10" stroke="#000" stroke-width="1.2"/>
<text transform="translate(304.60,712.30) scale(0.9,1)" x="-1.25 12.89 20.11 41.86" y="0" font-size="15.2" style="stroke-width:0.3px">M-TA</text>
<line x1="467.4" y1="432.7" x2="467.4" y2="435.0" stroke="#444" stroke-width="1.1"/>
<circle cx="368.6" cy="283.9" r="0.8" fill="#bbb"/>
<circle cx="140.5" cy="351.2" r="0.6" fill="#ccc"/>
</svg>
</body></html>
